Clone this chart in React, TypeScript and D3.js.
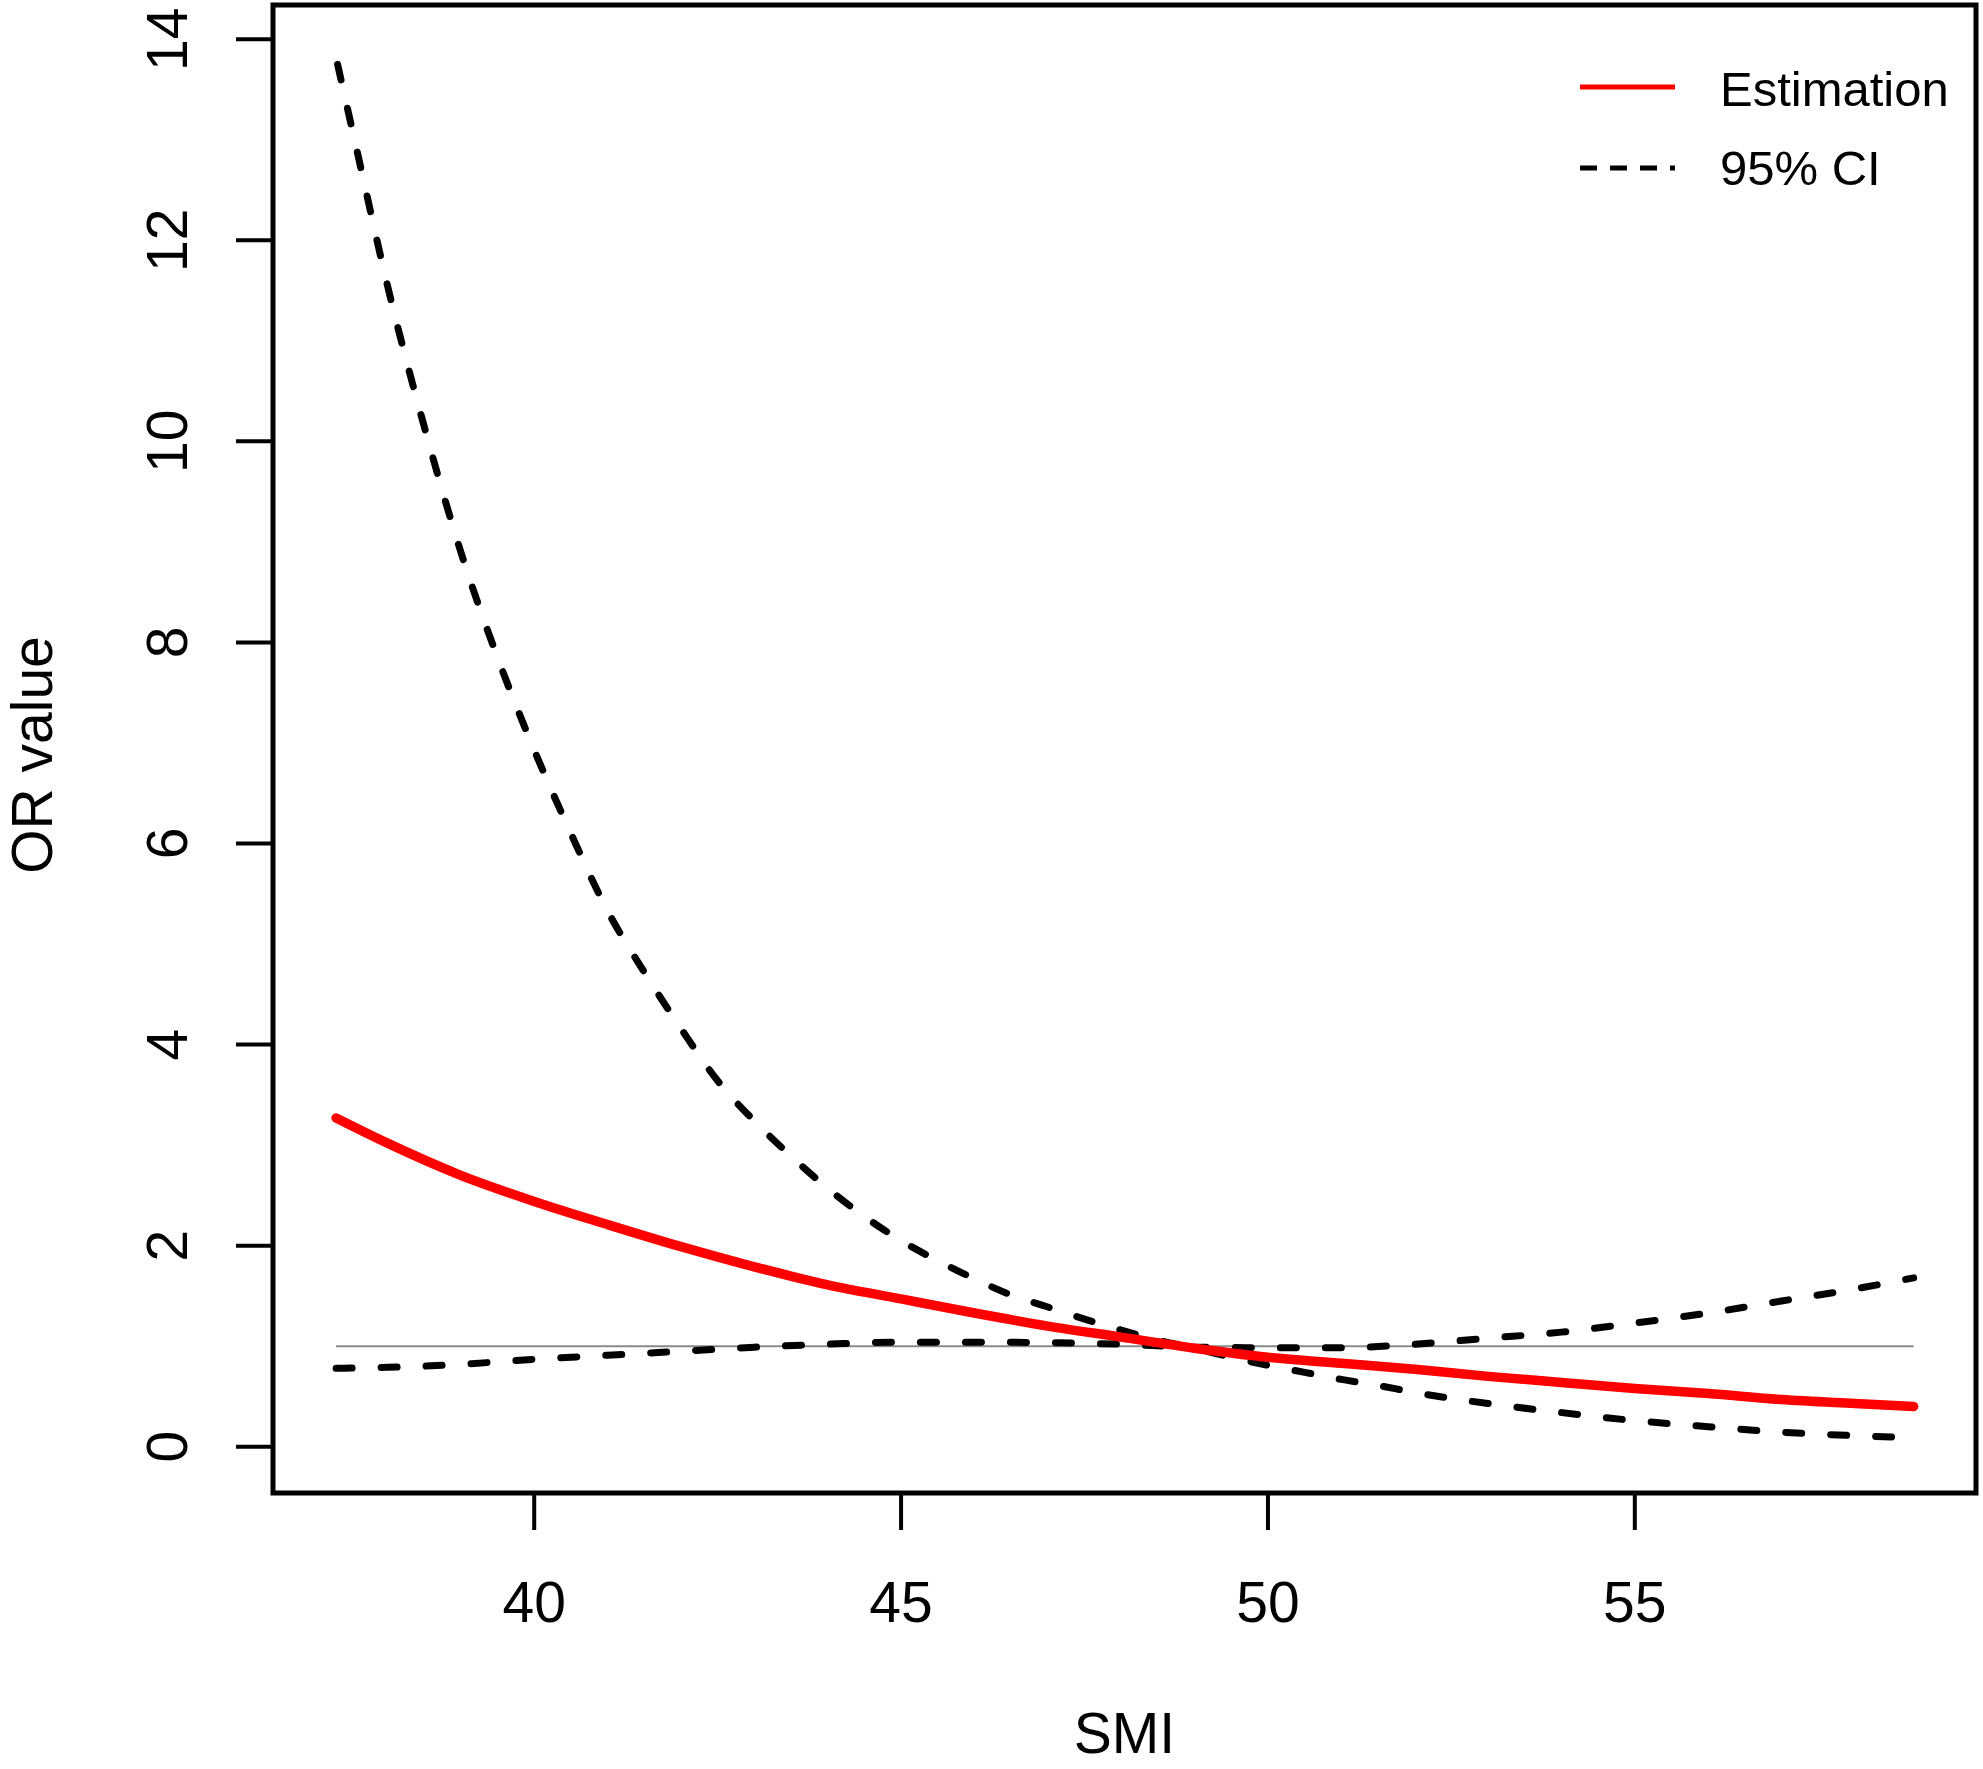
import React from "react";
import * as d3 from "d3";

// ---- data ----
const smi = [37.3, 38, 39, 40, 41, 42, 43, 44, 45, 46, 47, 48, 49, 50, 51, 52, 53, 54, 55, 56, 57, 58, 58.8];
const estimation = [3.27, 3.02, 2.70, 2.44, 2.21, 1.99, 1.79, 1.61, 1.47, 1.33, 1.20, 1.09, 0.98, 0.89, 0.83, 0.77, 0.70, 0.64, 0.58, 0.53, 0.47, 0.43, 0.40];
const ciB = [0.78, 0.79, 0.82, 0.87, 0.91, 0.95, 0.99, 1.02, 1.04, 1.04, 1.035, 1.02, 0.99, 0.985, 0.985, 1.02, 1.08, 1.14, 1.23, 1.33, 1.45, 1.57, 1.68];

const smiA = [37.32, 37.6, 38, 38.5, 39, 39.5, 40, 40.5, 41, 41.5, 42, 42.5, 43, 43.5, 44, 44.5, 45, 45.5, 46, 46.5, 47, 47.5, 48, 48.5, 49, 49.5, 50, 50.5, 51, 51.5, 52, 53, 54, 55, 56, 57, 58, 58.8];
const ciA = [13.75, 12.84, 11.55, 10.15, 8.9, 7.85, 6.93, 6.1, 5.33, 4.72, 4.16, 3.64, 3.24, 2.89, 2.57, 2.29, 2.05, 1.85, 1.67, 1.51, 1.39, 1.27, 1.16, 1.06, 0.98, 0.89, 0.81, 0.74, 0.67, 0.61, 0.54, 0.43, 0.34, 0.26, 0.20, 0.145, 0.11, 0.09];

const xTicks = [40, 45, 50, 55];
const yTicks = [0, 2, 4, 6, 8, 10, 12, 14];
const refValue = 1;
const legendLabels = ["Estimation", "95% CI"];

const W = 1983;
const H = 1769;
const FONT = "'Liberation Sans', Arial, Helvetica, sans-serif";

export default function App() {
  const x = d3.scaleLinear().domain([36.44, 59.65]).range([273, 1976]);
  const y = d3.scaleLinear().domain([-0.46, 14.34]).range([1493, 5]);

  const line = d3
    .line<[number, number]>()
    .x((d) => x(d[0]))
    .y((d) => y(d[1]))
    .curve(d3.curveMonotoneX);

  const estPath = line(smi.map((s, i) => [s, estimation[i]]) as [number, number][]) || "";
  const bPath = line(smi.map((s, i) => [s, ciB[i]]) as [number, number][]) || "";
  const aPath = line(smiA.map((s, i) => [s, ciA[i]]) as [number, number][]) || "";

  const [x0, x1] = x.range();
  const [yb, yt] = y.range();
  const tickLen = 37;

  return (
    <svg
      width={W}
      height={H}
      viewBox={`0 0 ${W} ${H}`}
      style={{ position: "absolute", left: 0, top: 0, background: "#fff" }}
      fontFamily={FONT}
    >
      <rect x={0} y={0} width={W} height={H} fill="#fff" />

      {/* reference line */}
      <line
        x1={x(smi[0])}
        x2={x(smi[smi.length - 1])}
        y1={y(refValue)}
        y2={y(refValue)}
        stroke="#8a8a8a"
        strokeWidth={2}
      />

      {/* CI curves */}
      <path d={aPath} fill="none" stroke="#000" strokeWidth={7} strokeDasharray="16 29" strokeLinecap="round" />
      <path d={bPath} fill="none" stroke="#000" strokeWidth={7} strokeDasharray="16 29" strokeLinecap="round" />

      {/* estimation */}
      <path d={estPath} fill="none" stroke="#ff0000" strokeWidth={9.5} strokeLinecap="round" />

      {/* box */}
      <rect x={x0} y={yt} width={x1 - x0} height={yb - yt} fill="none" stroke="#000" strokeWidth={5} />

      {/* x axis */}
      {xTicks.map((t) => (
        <g key={"x" + t}>
          <line x1={x(t)} x2={x(t)} y1={yb} y2={yb + tickLen} stroke="#000" strokeWidth={4} />
          <text x={x(t)} y={1622} fontSize={57} textAnchor="middle" fill="#000">
            {t}
          </text>
        </g>
      ))}

      {/* y axis */}
      {yTicks.map((t) => (
        <g key={"y" + t}>
          <line x1={x0 - tickLen} x2={x0} y1={y(t)} y2={y(t)} stroke="#000" strokeWidth={4} />
          <text
            transform={`translate(187, ${y(t)}) rotate(-90)`}
            fontSize={57}
            textAnchor="middle"
            fill="#000"
          >
            {t}
          </text>
        </g>
      ))}

      {/* axis titles */}
      <text x={(x0 + x1) / 2} y={1753} fontSize={57} textAnchor="middle" fill="#000">
        SMI
      </text>
      <text
        transform={`translate(52, ${(yb + yt) / 2 + 6}) rotate(-90)`}
        fontSize={57}
        textAnchor="middle"
        fill="#000"
      >
        OR value
      </text>

      {/* legend */}
      <line x1={1580} x2={1675} y1={87} y2={87} stroke="#ff0000" strokeWidth={5} />
      <text x={1720} y={106} fontSize={49} fill="#000">
        {legendLabels[0]}
      </text>
      <line
        x1={1580}
        x2={1675}
        y1={168}
        y2={168}
        stroke="#000"
        strokeWidth={5}
        strokeDasharray="17 13"
      />
      <text x={1720} y={185} fontSize={49} fill="#000">
        {legendLabels[1]}
      </text>
    </svg>
  );
}
